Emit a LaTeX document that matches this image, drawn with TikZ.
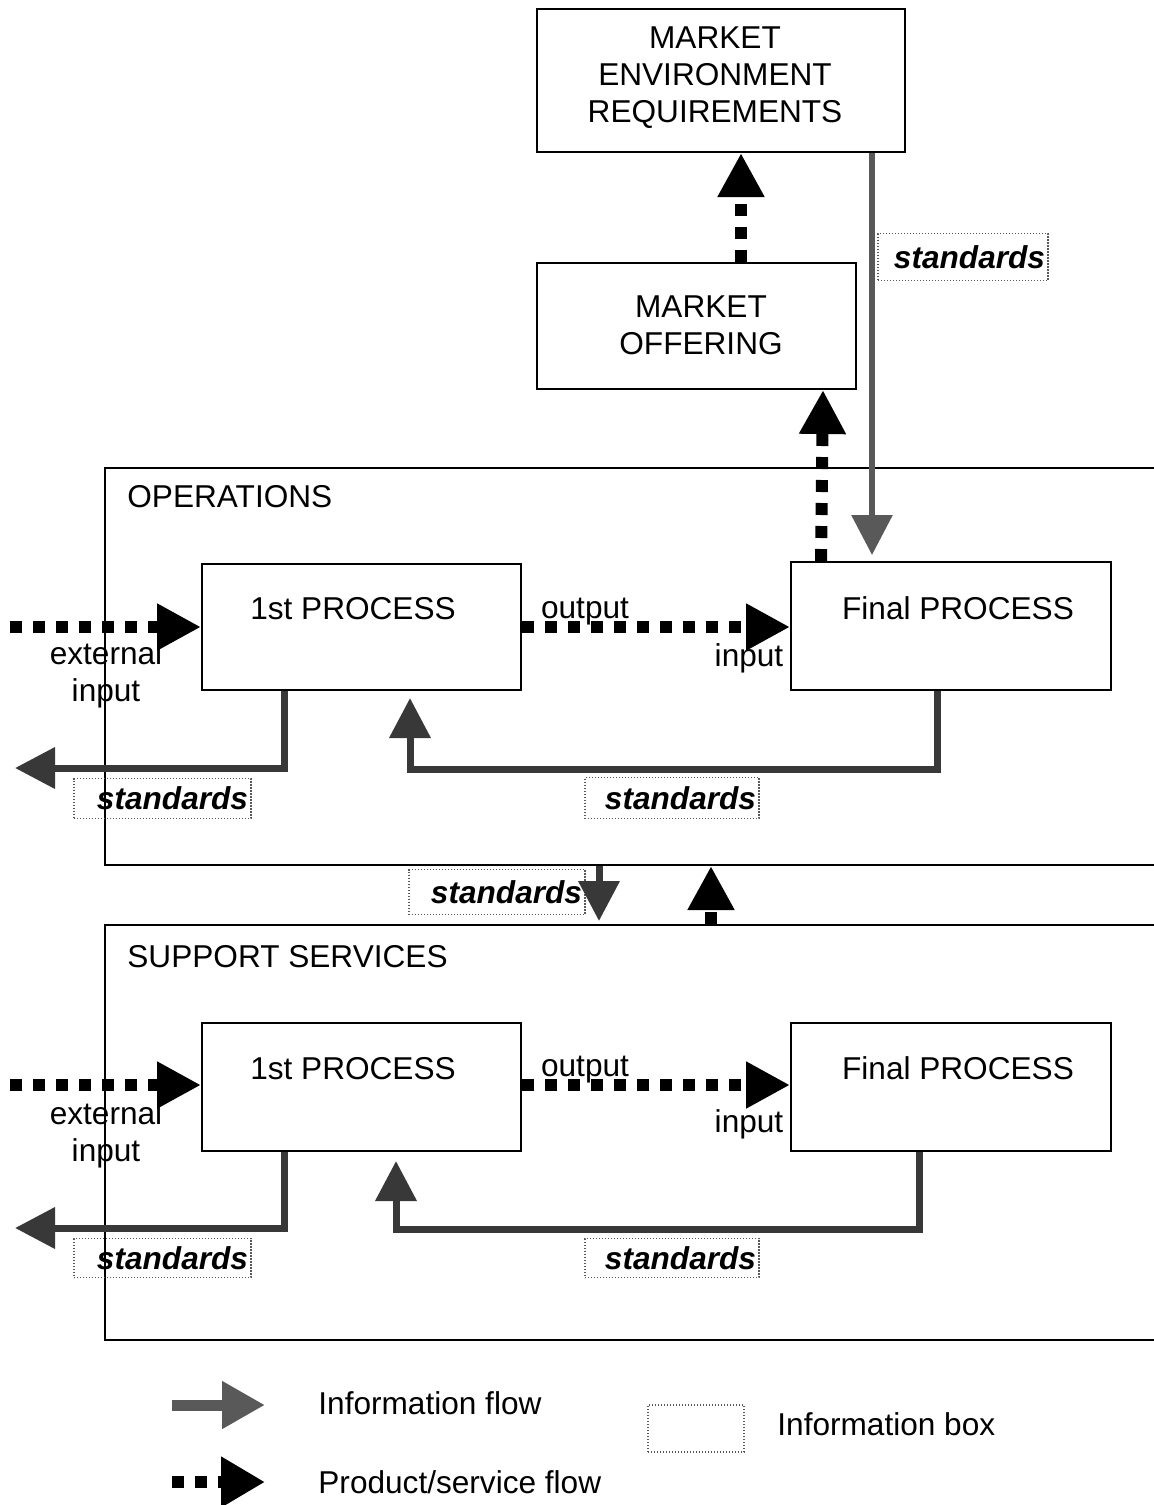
\documentclass[tikz,border=0pt]{standalone}
\usepackage{fontspec}
\setmainfont{Liberation Sans}
\usetikzlibrary{arrows.meta,calc}
\definecolor{infogray}{gray}{0.22}
\definecolor{infolight}{gray}{0.35}
\begin{document}
\begin{tikzpicture}[x=0.5pt,y=-0.5pt,
  fnt/.style={font=\fontsize{15.8}{18.5}\selectfont},
  box/.style={draw, line width=1pt, inner sep=0pt},
  txt/.style={fnt, inner sep=0pt, align=center},
  stdbox/.style={draw=black!65, dash pattern=on 0.6pt off 0.9pt, line width=0.6pt, inner xsep=1.5pt, inner ysep=0pt, font=\fontsize{15.8}{18}\selectfont\bfseries\itshape, align=right},
  prodflow/.style={line width=6pt, dash pattern=on 6pt off 5.5pt, -{Triangle[length=22pt,width=22pt]}},
  infoflow/.style={draw=infogray, line width=3.5pt, -{Triangle[length=20pt,width=20pt]}},
]
\useasboundingbox (0,0) rectangle (1154,1505);
\clip (0,0) rectangle (1154,1505);

% top boxes
\node[box, minimum width=184pt, minimum height=71.5pt] (mer) at (721,80.5) {};
\node[txt] (mert) at (715,77.5) {MARKET\\ENVIRONMENT\\REQUIREMENTS};
\node[box, minimum width=159.5pt, minimum height=63pt] (mo) at (696.5,326) {};
\node[txt] (mot) at (701,325.5) {MARKET\\OFFERING};

% operations
\node[box, minimum width=532.5pt, minimum height=198.5pt] (ops) at (637.5,666.5) {};
\node[txt, anchor=west] (opst) at (127,497) {OPERATIONS};
\node[box, minimum width=159.5pt, minimum height=63pt] (p1) at (361.5,627) {};
\node[txt] (p1t) at (353,609) {1st PROCESS};
\node[box, minimum width=160pt, minimum height=64pt] (f1) at (951,626) {};
\node[txt] (f1t) at (958,608) {Final PROCESS};
\node[txt, anchor=base] (o1) at (585,618) {output};
\node[txt, anchor=base] (i1) at (749,666) {input};
\node[txt] (x1t) at (106,675) {external\\input};

% support services
\node[box, minimum width=532.5pt, minimum height=207.5pt] (sup) at (637.5,1132.5) {};
\node[txt, anchor=west] (supt) at (127,957) {SUPPORT SERVICES};
\node[box, minimum width=159.5pt, minimum height=64pt] (p2) at (361.5,1087) {};
\node[txt] (p2t) at (353,1069) {1st PROCESS};
\node[box, minimum width=160pt, minimum height=64pt] (f2) at (951,1087) {};
\node[txt] (f2t) at (958,1068) {Final PROCESS};
\node[txt, anchor=base] (o2) at (585,1076) {output};
\node[txt, anchor=base] (i2) at (749,1132) {input};
\node[txt] (x2t) at (106,1135) {external\\input};

% information boxes
\node[stdbox, text width=82pt, minimum height=23.5pt] (s1) at (963,257) {standards};
\node[stdbox, text width=85.5pt, minimum height=20pt] (s2) at (162.5,798.5) {standards};
\node[stdbox, text width=84pt, minimum height=20.5pt] (s3) at (672,798) {standards};
\node[stdbox, text width=85pt, minimum height=22.5pt] (s4) at (497,892) {standards};
\node[stdbox, text width=85.5pt, minimum height=19.5pt] (s5) at (162.5,1258) {standards};
\node[stdbox, text width=84pt, minimum height=19.5pt] (s6) at (672,1258) {standards};

% coordinates for free ends
\coordinate (e1) at (10,627);
\coordinate (e2) at (10,1085);
\coordinate (x1) at (15,768);
\coordinate (x2) at (15,1228);

% product/service flows
\draw[prodflow] (e1) -- (p1.west);
\draw[prodflow] (p1.east) -- (p1.east -| f1.west);
\draw[prodflow] ($(f1.north west)+(31,0)$) -- ($(mo.south east)+(-34,0)$);
\draw[prodflow] ($(mo.north west)+(205,0)$) -- ($(mer.south west)+(205,0)$);
\draw[prodflow] (e2) -- (e2 -| p2.west);
\draw[prodflow] (p2.east |- e2) -- (e2 -| f2.west);
\draw[prodflow] ($(sup.north west)+(607,0)$) -- ($(ops.south west)+(607,0)$);

% information flows
\draw[infoflow, draw=infolight, line width=3pt] ($(mer.south west)+(336,0)$) -- ($(f1.north west)+(82,-6)$);
\draw[infoflow] ($(p1.south west)+(83,0)$) |- (x1);
\draw[infoflow] ($(f1.south west)+(147,0)$) -- ++(0,78) -| ($(p1.south west)+(209,7)$);
\draw[infoflow] ($(ops.south west)+(495,0)$) -- ($(sup.north west)+(495,-3)$);
\draw[infoflow] ($(p2.south west)+(83,0)$) |- (x2);
\draw[infoflow] ($(f2.south west)+(129,0)$) -- ++(0,77) -| ($(p2.south west)+(195,9)$);

% legend
\coordinate (la) at (172,1405);
\coordinate (lb) at (265,1405);
\coordinate (lc) at (172,1482);
\coordinate (ld) at (265,1482);
\draw[infoflow, draw=infolight, line width=5.5pt, -{Triangle[length=21.5pt,width=22.5pt]}] (la) -- (lb);
\draw[prodflow, -{Triangle[length=22pt,width=24pt]}] (lc) -- (ld);
\node[fnt, anchor=west, inner sep=0pt] (lt1) at (318,1403) {Information flow};
\node[fnt, anchor=west, inner sep=0pt] (lt2) at (318,1482) {Product/service flow};
\node[stdbox, minimum width=48pt, minimum height=23.5pt] (lbx) at (696,1428.5) {};
\node[fnt, anchor=west, inner sep=0pt] (lt3) at (777,1424) {Information box};
\end{tikzpicture}
\end{document}
